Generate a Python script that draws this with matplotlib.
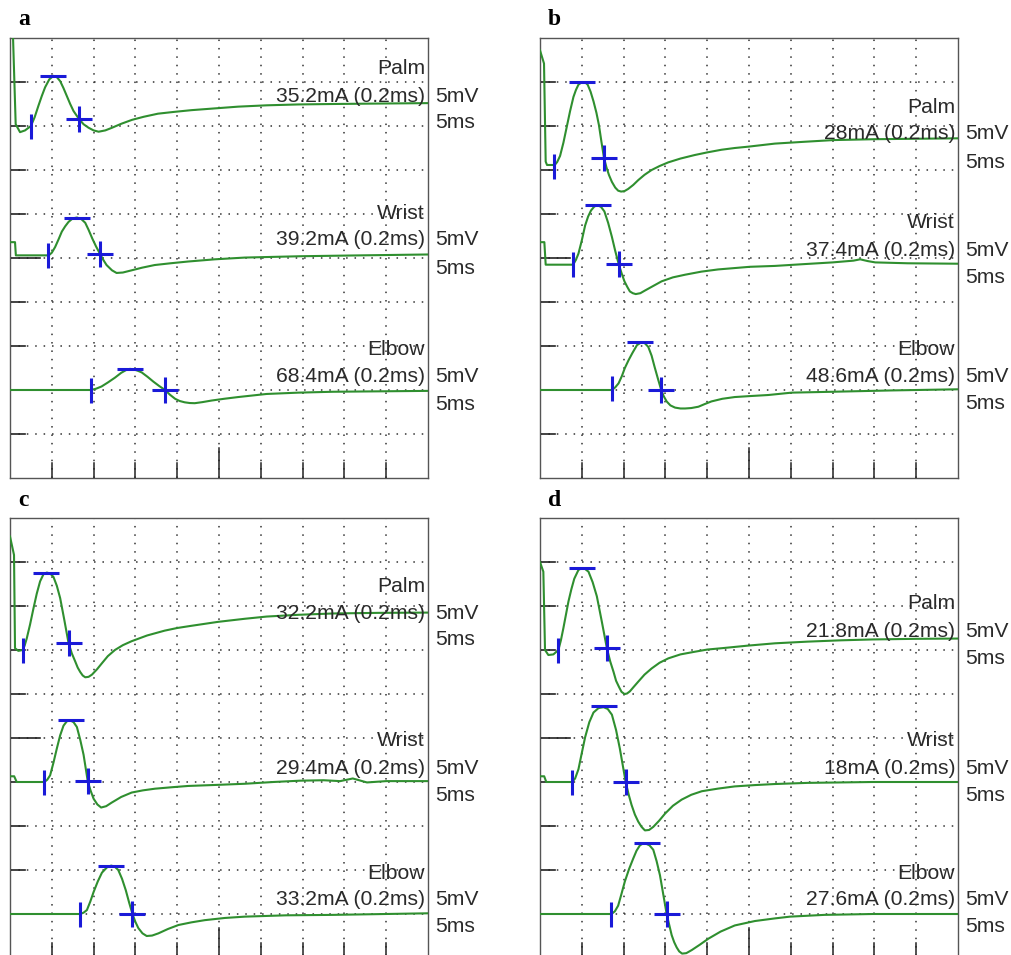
import matplotlib
matplotlib.use('Agg')
import matplotlib.pyplot as plt
from matplotlib import transforms

plt.rcParams['font.family'] = ['Liberation Sans', 'DejaVu Sans']

# 数据: 时间(ms) / 幅度(mV), 每格 5ms x 5mV
sites = ['Palm', 'Wrist', 'Elbow']
panels = ['a', 'b', 'c', 'd']

# 刺激强度 (mA), 脉宽 0.2ms
currents = {
    'a': [35.2, 39.2, 68.4],
    'b': [28, 37.4, 48.6],
    'c': [32.2, 29.4, 33.2],
    'd': [21.8, 18, 27.6],
}

# 各波形基线所在的格 (从下往上数)
baselines = {'a': [8, 5, 2], 'b': [7, 5, 2], 'c': [7, 4, 1], 'd': [7, 4, 1]}

a_palm_t = [0.3, 0.68, 1.2, 1.8, 2.5, 2.95, 3.4, 3.8, 4.2, 4.7, 5.2, 5.6, 6.0, 6.4, 6.8, 7.2, 7.6, 8.25, 8.8, 9.4, 10.0, 10.6, 11.4, 12.2, 13.3, 14.6, 16.0, 17.7, 19.6, 21.7, 24.5, 27.3, 30.7, 34.5, 38.6, 44, 50]
a_palm_v = [12, 0.2, -0.7, -0.5, 0.0, 1.0, 2.3, 3.4, 4.4, 5.3, 5.7, 5.55, 5.1, 4.3, 3.4, 2.5, 1.7, 0.8, 0.2, -0.2, -0.5, -0.65, -0.5, -0.2, 0.25, 0.7, 1.05, 1.4, 1.6, 1.8, 2.0, 2.2, 2.35, 2.45, 2.5, 2.55, 2.6]
a_wrist_t = [0, 0.6, 0.7, 4.4, 4.7, 5.0, 5.4, 5.8, 6.2, 6.6, 7.0, 7.5, 8.0, 8.5, 9.0, 9.4, 9.85, 10.3, 10.75, 11.15, 11.55, 12.2, 12.75, 13.5, 14.55, 15.8, 17.3, 19.2, 21.3, 24.5, 28.1, 34.7, 42, 50]
a_wrist_v = [1.8, 1.8, 0.3, 0.3, 0.35, 0.6, 1.25, 2.1, 3.0, 3.6, 4.1, 4.5, 4.6, 4.45, 4.0, 3.2, 2.2, 1.3, 0.5, -0.2, -0.8, -1.4, -1.7, -1.65, -1.4, -1.1, -0.8, -0.6, -0.4, -0.15, 0.05, 0.2, 0.3, 0.4]
a_elbow_t = [0, 9.7, 10.3, 10.95, 11.7, 12.55, 13.3, 13.95, 14.35, 14.75, 15.25, 15.75, 16.45, 17.15, 17.85, 18.55, 19.15, 19.75, 20.3, 20.9, 21.5, 22.1, 23.0, 24.1, 25.6, 27.3, 30.7, 34.5, 38.6, 50]
a_elbow_v = [0, 0, 0.15, 0.4, 0.85, 1.4, 1.95, 2.3, 2.4, 2.35, 2.2, 2.0, 1.5, 0.95, 0.45, 0, -0.55, -1.0, -1.25, -1.4, -1.48, -1.5, -1.38, -1.2, -1.0, -0.8, -0.45, -0.3, -0.2, -0.1]

b_palm_t = [0, 0.48, 0.68, 0.84, 1.6, 1.7, 2.05, 2.4, 2.8, 3.2, 3.6, 4.0, 4.3, 4.6, 5.05, 5.4, 5.7, 6.05, 6.4, 6.75, 7.05, 7.35, 7.65, 7.95, 8.25, 8.6, 9.0, 9.35, 9.7, 10.1, 10.55, 11.15, 11.75, 12.5, 13.35, 14.3, 15.35, 16.8, 18.5, 20.0, 21.7, 23.3, 24.9, 28.1, 31.5, 35.1, 40, 45, 50]
b_palm_v = [13.6, 12.1, 0.95, 0.57, 0.57, 0.5, 0.9, 1.6, 3.1, 4.9, 6.7, 8.3, 9.1, 9.7, 10.0, 9.95, 9.7, 8.9, 7.8, 6.5, 5.1, 3.2, 1.4, 0.3, -0.57, -1.35, -2.0, -2.35, -2.45, -2.4, -2.15, -1.7, -1.15, -0.55, 0, 0.45, 0.87, 1.3, 1.7, 2.0, 2.3, 2.5, 2.65, 3.0, 3.2, 3.4, 3.5, 3.55, 3.6]
b_wrist_t = [0, 0.52, 0.68, 3.87, 4.0, 4.3, 4.6, 5.0, 5.4, 5.75, 6.1, 6.5, 6.9, 7.3, 7.7, 8.15, 8.6, 9.0, 9.4, 9.75, 10.1, 10.45, 10.75, 11.1, 11.45, 12.0, 12.55, 13.5, 14.55, 15.9, 17.35, 19.3, 21.3, 23.2, 25.1, 28.1, 31.5, 35.0, 37.5, 38.3, 39.2, 40.1, 44, 50]
b_wrist_v = [1.8, 1.8, -0.76, -0.76, -0.7, -0.2, 0.5, 2.0, 3.7, 4.7, 5.4, 5.85, 6.0, 5.8, 5.3, 4.0, 2.4, 0.8, -0.64, -1.7, -2.65, -3.3, -3.8, -4.0, -4.1, -4.0, -3.7, -3.2, -2.65, -2.2, -1.9, -1.55, -1.3, -1.15, -1.0, -0.9, -0.7, -0.5, -0.3, -0.15, -0.35, -0.5, -0.6, -0.65]
b_elbow_t = [0, 8.6, 9.0, 9.4, 9.8, 10.15, 10.6, 11.05, 11.6, 12.1, 12.5, 12.95, 13.35, 13.7, 14.1, 14.5, 14.8, 15.15, 15.6, 16.15, 16.8, 17.35, 18.1, 18.95, 19.7, 20.5, 21.8, 23.3, 25.3, 27.3, 30.1, 35.0, 42, 50]
b_elbow_v = [0, 0, 0.3, 0.76, 1.6, 2.5, 3.4, 4.2, 5.1, 5.4, 5.35, 4.9, 3.9, 2.65, 1.3, 0, -0.7, -1.3, -1.75, -2.0, -2.1, -2.1, -2.05, -1.9, -1.6, -1.3, -1.0, -0.8, -0.68, -0.57, -0.3, -0.2, -0.05, 0.08]

c_palm_t = [0, 0.48, 0.6, 1.0, 1.5, 1.75, 2.0, 2.4, 2.8, 3.2, 3.6, 4.0, 4.4, 4.8, 5.2, 5.6, 6.0, 6.5, 7.0, 7.4, 7.8, 8.1, 8.4, 8.7, 9.0, 9.4, 9.8, 10.4, 11.0, 11.7, 12.55, 13.5, 14.55, 16.4, 18.5, 20.0, 21.7, 24.9, 28.1, 30.7, 34.5, 38.6, 44, 50]
c_palm_v = [12.9, 10.8, 0.2, -0.1, 0, 0.5, 1.3, 2.9, 4.7, 6.4, 7.8, 8.6, 8.8, 8.7, 8.3, 7.3, 5.9, 3.4, 0.8, -0.4, -1.3, -2.0, -2.5, -2.9, -3.1, -3.05, -2.8, -2.2, -1.5, -0.7, 0, 0.55, 1.0, 1.65, 2.2, 2.5, 2.75, 3.2, 3.55, 3.8, 4.0, 4.15, 4.22, 4.25]
c_wrist_t = [0, 0.5, 0.8, 4.1, 4.45, 4.8, 5.2, 5.6, 6.0, 6.4, 6.8, 7.2, 7.6, 8.0, 8.4, 8.8, 9.05, 9.3, 9.65, 10.0, 10.45, 10.9, 11.5, 12.15, 13.3, 14.55, 15.9, 17.35, 19.3, 21.3, 24.7, 28.1, 31.5, 34.7, 37.5, 39.5, 41.0, 42.7, 45, 50]
c_wrist_v = [0.65, 0.65, 0, 0, 0.25, 0.76, 2.2, 3.8, 5.3, 6.4, 6.9, 7.0, 6.8, 6.25, 4.8, 3.1, 1.6, 0.08, -1.0, -1.9, -2.55, -2.9, -2.75, -2.35, -1.7, -1.2, -0.95, -0.76, -0.6, -0.45, -0.33, -0.2, 0, 0.15, 0.2, 0.1, 0.4, -0.05, 0.1, 0.1]
c_elbow_t = [0, 8.4, 8.8, 9.2, 9.6, 10.0, 10.5, 11.0, 11.6, 12.1, 12.5, 12.95, 13.4, 13.85, 14.25, 14.65, 15.0, 15.35, 15.85, 16.35, 17.0, 17.75, 18.9, 20.15, 21.7, 23.3, 25.7, 28.1, 33, 38.6, 50]
c_elbow_v = [0, 0, 0.15, 0.45, 1.4, 2.5, 3.7, 4.7, 5.3, 5.5, 5.4, 5.0, 4.0, 2.7, 1.3, 0, -0.9, -1.6, -2.2, -2.5, -2.45, -2.2, -1.7, -1.25, -0.95, -0.7, -0.45, -0.3, -0.15, -0.1, 0.08]

d_palm_t = [0, 0.4, 0.6, 1.0, 1.6, 2.2, 2.5, 2.8, 3.1, 3.4, 3.75, 4.1, 4.6, 5.0, 5.4, 5.8, 6.3, 6.8, 7.4, 8.0, 8.4, 8.8, 9.1, 9.45, 9.75, 10.1, 10.4, 10.75, 11.2, 11.75, 12.5, 13.35, 14.3, 15.35, 16.8, 18.5, 20.0, 21.7, 24.9, 28.1, 32, 36, 39.8, 45, 50]
d_palm_v = [10.0, 8.9, 0, -0.57, -0.5, 0, 1.1, 2.5, 4.0, 5.5, 6.9, 8.1, 9.1, 9.3, 9.2, 8.9, 7.7, 6.1, 3.2, 0.2, -1.3, -2.5, -3.5, -4.2, -4.75, -5.0, -4.95, -4.7, -4.2, -3.6, -2.8, -2.1, -1.45, -0.95, -0.5, -0.2, 0.05, 0.2, 0.5, 0.76, 0.95, 1.1, 1.2, 1.27, 1.3]
d_wrist_t = [0, 0.5, 0.75, 3.85, 4.2, 4.6, 5.0, 5.4, 5.9, 6.4, 7.0, 7.6, 8.1, 8.6, 9.1, 9.55, 9.9, 10.25, 10.6, 10.95, 11.35, 11.75, 12.15, 12.55, 13.05, 13.55, 14.25, 14.95, 15.9, 16.95, 18.1, 19.35, 21.3, 23.3, 25.7, 28.1, 32, 39.8, 50]
d_wrist_v = [0.65, 0.65, 0, 0, 0.4, 1.45, 3.3, 5.1, 6.8, 7.9, 8.4, 8.5, 8.3, 7.65, 5.9, 3.8, 1.9, 0, -1.4, -2.6, -3.7, -4.5, -5.1, -5.5, -5.45, -5.1, -4.4, -3.6, -2.7, -2.0, -1.45, -1.05, -0.75, -0.5, -0.35, -0.23, -0.1, 0, 0]
d_elbow_t = [0, 8.55, 8.95, 9.35, 9.75, 10.15, 10.65, 11.15, 11.55, 11.95, 12.3, 12.65, 13.1, 13.55, 13.95, 14.35, 14.75, 15.15, 15.45, 15.75, 16.05, 16.35, 16.65, 17.0, 17.5, 18.15, 19.1, 20.15, 21.6, 23.3, 25.7, 28.1, 29.9, 34, 39.8, 50]
d_elbow_v = [0, 0, 0.3, 0.95, 2.3, 3.7, 5.1, 6.3, 7.2, 7.8, 8.0, 8.0, 7.8, 7.3, 6.0, 4.4, 2.2, 0, -1.2, -2.4, -3.2, -3.8, -4.25, -4.5, -4.45, -4.1, -3.5, -2.8, -2.0, -1.3, -0.8, -0.5, -0.3, -0.1, 0, 0]

traces = {
    'a': [(a_palm_t, a_palm_v), (a_wrist_t, a_wrist_v), (a_elbow_t, a_elbow_v)],
    'b': [(b_palm_t, b_palm_v), (b_wrist_t, b_wrist_v), (b_elbow_t, b_elbow_v)],
    'c': [(c_palm_t, c_palm_v), (c_wrist_t, c_wrist_v), (c_elbow_t, c_elbow_v)],
    'd': [(d_palm_t, d_palm_v), (d_wrist_t, d_wrist_v), (d_elbow_t, d_elbow_v)],
}

# 光标: 起始 | 峰值 - | 交叉 +  (ms, mV)
onsets = {
    'a': [(2.5, 0), (4.6, 0.3), (9.7, 0)],
    'b': [(1.7, 0.4), (4.0, -0.7), (8.6, 0.2)],
    'c': [(1.5, 0), (4.1, 0), (8.4, 0)],
    'd': [(2.2, 0), (3.85, 0), (8.55, 0)],
}
peaks = {
    'a': [(5.2, 5.7), (8.0, 4.6), (14.35, 2.35)],
    'b': [(5.05, 10.0), (6.9, 6.0), (12.0, 5.4)],
    'c': [(4.3, 8.8), (7.25, 7.0), (12.1, 5.5)],
    'd': [(5.0, 9.3), (7.65, 8.6), (12.75, 8.1)],
}
crosses = {
    'a': [(8.25, 0.8), (10.75, 0.5), (18.55, 0)],
    'b': [(7.65, 1.4), (9.4, -0.64), (14.5, 0)],
    'c': [(7.05, 0.8), (9.3, 0.1), (14.65, 0)],
    'd': [(8.0, 0.2), (10.25, 0), (15.15, 0)],
}

# 文字位置 (格): 名称, 强度/5mV, 5ms
text_y = {
    'a': [(9.30, 8.68, 8.07), (6.02, 5.41, 4.77), (2.91, 2.30, 1.66)],
    'b': [(8.43, 7.84, 7.18), (5.80, 5.18, 4.55), (2.93, 2.30, 1.70)],
    'c': [(8.45, 7.83, 7.23), (4.95, 4.31, 3.70), (1.93, 1.33, 0.71)],
    'd': [(8.05, 7.42, 6.81), (4.95, 4.31, 3.70), (1.93, 1.33, 0.71)],
}

W, H = 1012, 955
boxes = {'a': (10, 38), 'b': (540, 38), 'c': (10, 518), 'd': (540, 518)}
letter_pos = {'a': (18, 25), 'b': (548, 25), 'c': (18, 506), 'd': (548, 506)}

green = '#2f8f2f'
blue = '#1a1ad8'
ink = '#2a2a2a'
dots = (0, (1, 4.5))

fig = plt.figure(figsize=(W / 100, H / 100), dpi=100)

for p in panels:
    x0, y0 = boxes[p]
    ax = fig.add_axes([x0 / W, 1 - (y0 + 440) / H, 418 / W, 440 / H])
    ax.set_xlim(0, 50)
    ax.set_ylim(0, 10)
    ax.set_xticks([])
    ax.set_yticks([])
    for s in ax.spines.values():
        s.set_color('#555555')
        s.set_linewidth(1.0)

    # 点状网格
    for i in range(1, 10):
        ax.axhline(i, color='#333333', lw=1.1, linestyle=dots, dash_capstyle='butt', zorder=1)
        ax.axvline(i * 5, color='#333333', lw=1.1, linestyle=dots, dash_capstyle='butt', zorder=1)
        ln = 3.6 if i == 5 else 1.8
        ax.plot([0, ln], [i, i], color='#222222', lw=1.2, zorder=2)
        th = 0.68 if i == 5 else 0.34
        ax.plot([i * 5, i * 5], [0, th], color='#222222', lw=1.1, zorder=2)

    tr = transforms.blended_transform_factory(ax.transAxes, ax.transData)
    for k in range(3):
        base = baselines[p][k]
        t, v = traces[p][k]
        ax.plot(t, [base + x / 5 for x in v], color=green, lw=1.5, zorder=3,
                solid_joinstyle='round')

        ot, ov = onsets[p][k]
        pt, pv = peaks[p][k]
        ct, cv = crosses[p][k]
        ax.plot(ot, base + ov / 5, marker='|', ms=18, mew=2.2, color=blue, zorder=4)
        ax.plot(pt, base + pv / 5, marker='_', ms=19, mew=2.2, color=blue, zorder=4)
        ax.plot(ct, base + cv / 5, marker='+', ms=19, mew=2.2, color=blue, zorder=4)

        y1, y2, y3 = text_y[p][k]
        ax.text(0.993, y1, sites[k], transform=tr, ha='right', va='center',
                fontsize=15.2, color=ink, zorder=5)
        ax.text(0.993, y2, '%gmA (0.2ms)' % currents[p][k], transform=tr,
                ha='right', va='center', fontsize=15.2, color=ink, zorder=5)
        ax.text(1.017, y2, '5mV', transform=tr, ha='left', va='center',
                fontsize=15.2, color=ink, clip_on=False)
        ax.text(1.017, y3, '5ms', transform=tr, ha='left', va='center',
                fontsize=15.2, color=ink, clip_on=False)

    lx, ly = letter_pos[p]
    fig.text(lx / W, 1 - ly / H, p, fontsize=17, fontweight='bold',
             family='Liberation Serif', ha='left', va='baseline')

fig.savefig('out.png', dpi=100)
